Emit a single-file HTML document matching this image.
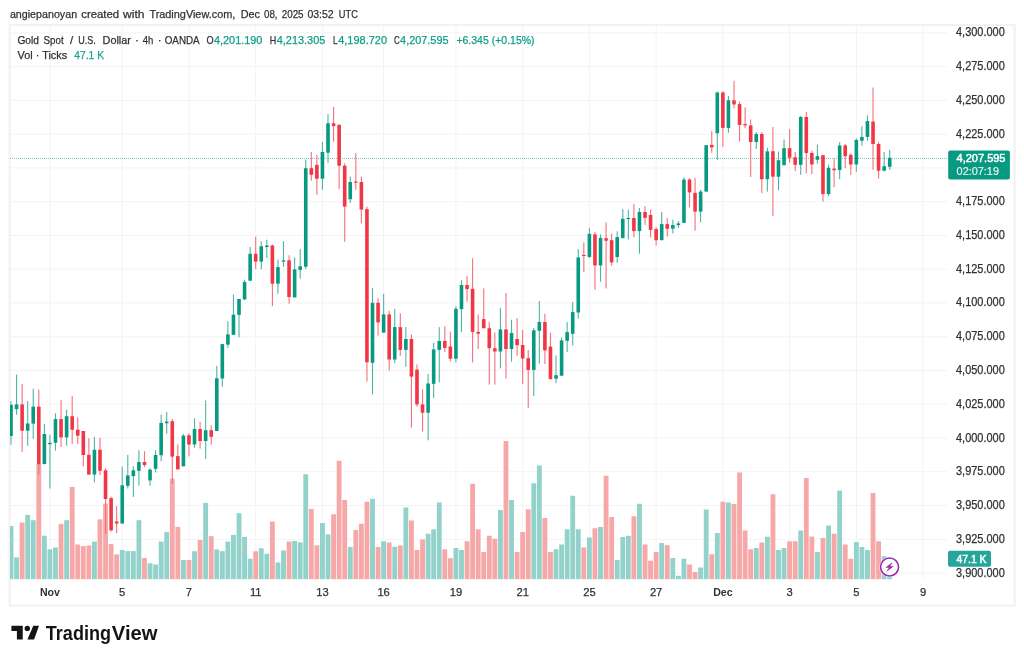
<!DOCTYPE html><html><head><meta charset="utf-8"><title>Gold Spot / U.S. Dollar</title>
<style>html,body{margin:0;padding:0;background:#fff}svg{display:block}text{font-family:"Liberation Sans",sans-serif}.t{stroke:#2e3238;stroke-width:.25px}.g{stroke:#089981;stroke-width:.25px}</style></head><body>
<svg width="1024" height="661" viewBox="0 0 1024 661">
<rect width="1024" height="661" fill="#fff"/>
<g stroke="#f3f3f5" stroke-width="1" shape-rendering="auto"><line x1="10" x2="947.5" y1="32.9" y2="32.9"/><line x1="10" x2="947.5" y1="66.66" y2="66.66"/><line x1="10" x2="947.5" y1="100.42" y2="100.42"/><line x1="10" x2="947.5" y1="134.18" y2="134.18"/><line x1="10" x2="947.5" y1="167.94" y2="167.94"/><line x1="10" x2="947.5" y1="201.7" y2="201.7"/><line x1="10" x2="947.5" y1="235.46" y2="235.46"/><line x1="10" x2="947.5" y1="269.22" y2="269.22"/><line x1="10" x2="947.5" y1="302.98" y2="302.98"/><line x1="10" x2="947.5" y1="336.74" y2="336.74"/><line x1="10" x2="947.5" y1="370.5" y2="370.5"/><line x1="10" x2="947.5" y1="404.26" y2="404.26"/><line x1="10" x2="947.5" y1="438.02" y2="438.02"/><line x1="10" x2="947.5" y1="471.78" y2="471.78"/><line x1="10" x2="947.5" y1="505.54" y2="505.54"/><line x1="10" x2="947.5" y1="539.3" y2="539.3"/><line x1="10" x2="947.5" y1="573.06" y2="573.06"/><line x1="49.93" x2="49.93" y1="26" y2="579"/><line x1="122.23" x2="122.23" y1="26" y2="579"/><line x1="188.97" x2="188.97" y1="26" y2="579"/><line x1="255.71" x2="255.71" y1="26" y2="579"/><line x1="322.44" x2="322.44" y1="26" y2="579"/><line x1="383.62" x2="383.62" y1="26" y2="579"/><line x1="455.92" x2="455.92" y1="26" y2="579"/><line x1="522.66" x2="522.66" y1="26" y2="579"/><line x1="589.4" x2="589.4" y1="26" y2="579"/><line x1="656.13" x2="656.13" y1="26" y2="579"/><line x1="722.87" x2="722.87" y1="26" y2="579"/><line x1="789.61" x2="789.61" y1="26" y2="579"/><line x1="856.35" x2="856.35" y1="26" y2="579"/><line x1="923.09" x2="923.09" y1="26" y2="579"/></g>
<rect x="9.6" y="25.1" width="1005" height="580.4" fill="none" stroke="#f1f1f2" stroke-width="2"/>
<g fill="#92d2cb"><rect x="10" y="526" width="3.43" height="53.2"/><rect x="14.14" y="557.4" width="4.85" height="21.8"/><rect x="25.26" y="514.9" width="4.85" height="64.3"/><rect x="30.82" y="520.2" width="4.85" height="59"/><rect x="41.94" y="535.7" width="4.85" height="43.5"/><rect x="47.51" y="549.3" width="4.85" height="29.9"/><rect x="53.07" y="547.5" width="4.85" height="31.7"/><rect x="64.19" y="520.2" width="4.85" height="59"/><rect x="92" y="541.6" width="4.85" height="37.6"/><rect x="119.8" y="549.9" width="4.85" height="29.3"/><rect x="125.37" y="551.1" width="4.85" height="28.1"/><rect x="130.93" y="551.1" width="4.85" height="28.1"/><rect x="136.49" y="520.2" width="4.85" height="59"/><rect x="147.61" y="563.2" width="4.85" height="16"/><rect x="153.17" y="564.5" width="4.85" height="14.7"/><rect x="158.74" y="541.6" width="4.85" height="37.6"/><rect x="164.3" y="531.9" width="4.85" height="47.3"/><rect x="180.98" y="560" width="4.85" height="19.2"/><rect x="192.1" y="551.2" width="4.85" height="28"/><rect x="203.23" y="502.9" width="4.85" height="76.3"/><rect x="214.35" y="549.4" width="4.85" height="29.8"/><rect x="219.91" y="551.2" width="4.85" height="28"/><rect x="225.47" y="541.6" width="4.85" height="37.6"/><rect x="231.03" y="534.9" width="4.85" height="44.3"/><rect x="236.6" y="513.2" width="4.85" height="66"/><rect x="242.16" y="537" width="4.85" height="42.2"/><rect x="247.72" y="558.75" width="4.85" height="20.45"/><rect x="258.84" y="548.25" width="4.85" height="30.95"/><rect x="264.4" y="553.75" width="4.85" height="25.45"/><rect x="275.53" y="562.5" width="4.85" height="16.7"/><rect x="281.09" y="550.5" width="4.85" height="28.7"/><rect x="292.21" y="541" width="4.85" height="38.2"/><rect x="297.77" y="542.3" width="4.85" height="36.9"/><rect x="303.33" y="474.2" width="4.85" height="105"/><rect x="320.02" y="523" width="4.85" height="56.2"/><rect x="325.58" y="534.3" width="4.85" height="44.9"/><rect x="347.83" y="547" width="4.85" height="32.2"/><rect x="370.07" y="498.75" width="4.85" height="80.45"/><rect x="381.2" y="541.25" width="4.85" height="37.95"/><rect x="392.32" y="546.75" width="4.85" height="32.45"/><rect x="403.44" y="507.5" width="4.85" height="71.7"/><rect x="425.69" y="533.75" width="4.85" height="45.45"/><rect x="431.25" y="529.25" width="4.85" height="49.95"/><rect x="436.81" y="502.5" width="4.85" height="76.7"/><rect x="453.49" y="548" width="4.85" height="31.2"/><rect x="459.06" y="550" width="4.85" height="29.2"/><rect x="497.99" y="510" width="4.85" height="69.2"/><rect x="509.11" y="500" width="4.85" height="79.2"/><rect x="531.36" y="483.25" width="4.85" height="95.95"/><rect x="536.92" y="465.5" width="4.85" height="113.7"/><rect x="553.6" y="549.25" width="4.85" height="29.95"/><rect x="559.16" y="544.5" width="4.85" height="34.7"/><rect x="564.73" y="529.25" width="4.85" height="49.95"/><rect x="570.29" y="495.75" width="4.85" height="83.45"/><rect x="575.85" y="529.25" width="4.85" height="49.95"/><rect x="586.97" y="537.5" width="4.85" height="41.7"/><rect x="598.09" y="527" width="4.85" height="52.2"/><rect x="614.78" y="560" width="4.85" height="19.2"/><rect x="620.34" y="537" width="4.85" height="42.2"/><rect x="625.9" y="535.75" width="4.85" height="43.45"/><rect x="637.02" y="503.75" width="4.85" height="75.45"/><rect x="659.27" y="543" width="4.85" height="36.2"/><rect x="670.39" y="558" width="4.85" height="21.2"/><rect x="675.96" y="575.75" width="4.85" height="3.45"/><rect x="681.52" y="558.75" width="4.85" height="20.45"/><rect x="698.2" y="567.5" width="4.85" height="11.7"/><rect x="703.76" y="509.5" width="4.85" height="69.7"/><rect x="714.89" y="533" width="4.85" height="46.2"/><rect x="726.01" y="502.5" width="4.85" height="76.7"/><rect x="753.82" y="548" width="4.85" height="31.2"/><rect x="764.94" y="536.75" width="4.85" height="42.45"/><rect x="776.06" y="550" width="4.85" height="29.2"/><rect x="781.62" y="548" width="4.85" height="31.2"/><rect x="798.31" y="530.5" width="4.85" height="48.7"/><rect x="814.99" y="552" width="4.85" height="27.2"/><rect x="826.12" y="525.5" width="4.85" height="53.7"/><rect x="837.24" y="490.5" width="4.85" height="88.7"/><rect x="853.92" y="542" width="4.85" height="37.2"/><rect x="859.48" y="547" width="4.85" height="32.2"/><rect x="865.05" y="550" width="4.85" height="29.2"/><rect x="881.73" y="556.25" width="4.85" height="22.95"/><rect x="887.29" y="559" width="4.85" height="20.2"/></g>
<g fill="#f6a8a8"><rect x="19.7" y="522.5" width="4.85" height="56.7"/><rect x="36.38" y="464" width="4.85" height="115.2"/><rect x="58.63" y="523.9" width="4.85" height="55.3"/><rect x="69.75" y="486.9" width="4.85" height="92.3"/><rect x="75.31" y="544.5" width="4.85" height="34.7"/><rect x="80.87" y="546.1" width="4.85" height="33.1"/><rect x="86.44" y="545.4" width="4.85" height="33.8"/><rect x="97.56" y="519.4" width="4.85" height="59.8"/><rect x="103.12" y="503.6" width="4.85" height="75.6"/><rect x="108.68" y="544.1" width="4.85" height="35.1"/><rect x="114.24" y="554.4" width="4.85" height="24.8"/><rect x="142.05" y="558" width="4.85" height="21.2"/><rect x="169.86" y="478.6" width="4.85" height="100.6"/><rect x="175.42" y="526.9" width="4.85" height="52.3"/><rect x="186.54" y="560" width="4.85" height="19.2"/><rect x="197.67" y="539.9" width="4.85" height="39.3"/><rect x="208.79" y="536.2" width="4.85" height="43"/><rect x="253.28" y="551.25" width="4.85" height="27.95"/><rect x="269.97" y="521.6" width="4.85" height="57.6"/><rect x="286.65" y="541.6" width="4.85" height="37.6"/><rect x="308.9" y="509" width="4.85" height="70.2"/><rect x="314.46" y="545.3" width="4.85" height="33.9"/><rect x="331.14" y="514.25" width="4.85" height="64.95"/><rect x="336.7" y="460.75" width="4.85" height="118.45"/><rect x="342.26" y="500" width="4.85" height="79.2"/><rect x="353.39" y="530" width="4.85" height="49.2"/><rect x="358.95" y="523.75" width="4.85" height="55.45"/><rect x="364.51" y="501.75" width="4.85" height="77.45"/><rect x="375.63" y="547" width="4.85" height="32.2"/><rect x="386.76" y="542.5" width="4.85" height="36.7"/><rect x="397.88" y="545.5" width="4.85" height="33.7"/><rect x="409" y="520.5" width="4.85" height="58.7"/><rect x="414.56" y="550" width="4.85" height="29.2"/><rect x="420.13" y="539.5" width="4.85" height="39.7"/><rect x="442.37" y="549.25" width="4.85" height="29.95"/><rect x="447.93" y="558.25" width="4.85" height="20.95"/><rect x="464.62" y="541.25" width="4.85" height="37.95"/><rect x="470.18" y="483.75" width="4.85" height="95.45"/><rect x="475.74" y="529.25" width="4.85" height="49.95"/><rect x="481.3" y="552" width="4.85" height="27.2"/><rect x="486.86" y="535.75" width="4.85" height="43.45"/><rect x="492.43" y="538.75" width="4.85" height="40.45"/><rect x="503.55" y="441" width="4.85" height="138.2"/><rect x="514.67" y="552" width="4.85" height="27.2"/><rect x="520.23" y="532" width="4.85" height="47.2"/><rect x="525.79" y="509.25" width="4.85" height="69.95"/><rect x="542.48" y="518" width="4.85" height="61.2"/><rect x="548.04" y="552" width="4.85" height="27.2"/><rect x="581.41" y="547.5" width="4.85" height="31.7"/><rect x="592.53" y="528.25" width="4.85" height="50.95"/><rect x="603.66" y="475.75" width="4.85" height="103.45"/><rect x="609.22" y="517" width="4.85" height="62.2"/><rect x="631.46" y="516.25" width="4.85" height="62.95"/><rect x="642.59" y="544.5" width="4.85" height="34.7"/><rect x="648.15" y="560.75" width="4.85" height="18.45"/><rect x="653.71" y="552" width="4.85" height="27.2"/><rect x="664.83" y="545.25" width="4.85" height="33.95"/><rect x="687.08" y="564.5" width="4.85" height="14.7"/><rect x="692.64" y="572" width="4.85" height="7.2"/><rect x="709.32" y="554.25" width="4.85" height="24.95"/><rect x="720.45" y="501.75" width="4.85" height="77.45"/><rect x="731.57" y="504" width="4.85" height="75.2"/><rect x="737.13" y="472.5" width="4.85" height="106.7"/><rect x="742.69" y="530.5" width="4.85" height="48.7"/><rect x="748.25" y="549.25" width="4.85" height="29.95"/><rect x="759.38" y="542.5" width="4.85" height="36.7"/><rect x="770.5" y="494.25" width="4.85" height="84.95"/><rect x="787.18" y="541.25" width="4.85" height="37.95"/><rect x="792.75" y="541.25" width="4.85" height="37.95"/><rect x="803.87" y="478" width="4.85" height="101.2"/><rect x="809.43" y="536.5" width="4.85" height="42.7"/><rect x="820.55" y="538" width="4.85" height="41.2"/><rect x="831.68" y="533.75" width="4.85" height="45.45"/><rect x="842.8" y="544.5" width="4.85" height="34.7"/><rect x="848.36" y="558.75" width="4.85" height="20.45"/><rect x="870.61" y="493" width="4.85" height="86.2"/><rect x="876.17" y="541.25" width="4.85" height="37.95"/></g>
<line x1="10" x2="947.5" y1="158.45" y2="158.45" stroke="#089981" stroke-width="1" stroke-dasharray="1 1" opacity="0.55"/>
<g fill="#4fb5a3"><rect x="10.45" y="401.1" width="1.1" height="43.7"/><rect x="16.01" y="374.6" width="1.1" height="40.3"/><rect x="27.13" y="401.1" width="1.1" height="44.6"/><rect x="32.7" y="388.8" width="1.1" height="49.9"/><rect x="43.82" y="424" width="1.1" height="40.5"/><rect x="49.38" y="434.9" width="1.1" height="53.7"/><rect x="54.94" y="413.2" width="1.1" height="37.5"/><rect x="66.06" y="409.6" width="1.1" height="36.1"/><rect x="93.87" y="436.9" width="1.1" height="45.5"/><rect x="121.68" y="466.6" width="1.1" height="56.9"/><rect x="127.24" y="454.9" width="1.1" height="33.7"/><rect x="132.8" y="466.1" width="1.1" height="30.8"/><rect x="138.36" y="450.2" width="1.1" height="35.6"/><rect x="149.49" y="468.3" width="1.1" height="17.5"/><rect x="155.05" y="450.2" width="1.1" height="22.3"/><rect x="160.61" y="414.6" width="1.1" height="46.6"/><rect x="166.17" y="411.9" width="1.1" height="21.8"/><rect x="182.86" y="434" width="1.1" height="32.3"/><rect x="193.98" y="418.2" width="1.1" height="29.6"/><rect x="205.1" y="400.4" width="1.1" height="58.6"/><rect x="216.23" y="365.9" width="1.1" height="65.1"/><rect x="221.79" y="344.1" width="1.1" height="42.7"/><rect x="227.35" y="321.2" width="1.1" height="26.5"/><rect x="232.91" y="294.5" width="1.1" height="40.3"/><rect x="238.47" y="299" width="1.1" height="38.3"/><rect x="244.03" y="279.9" width="1.1" height="20"/><rect x="249.59" y="247.1" width="1.1" height="33.6"/><rect x="260.72" y="241.3" width="1.1" height="27.8"/><rect x="266.28" y="239.6" width="1.1" height="18.3"/><rect x="277.4" y="259.6" width="1.1" height="34.1"/><rect x="282.96" y="241.1" width="1.1" height="25.8"/><rect x="294.09" y="257.4" width="1.1" height="40"/><rect x="299.65" y="249.1" width="1.1" height="29.6"/><rect x="305.21" y="159.5" width="1.1" height="109.6"/><rect x="321.89" y="141.9" width="1.1" height="47.9"/><rect x="327.46" y="114.1" width="1.1" height="48.8"/><rect x="349.7" y="176.5" width="1.1" height="26.4"/><rect x="371.95" y="288" width="1.1" height="106.4"/><rect x="383.07" y="293.8" width="1.1" height="38.9"/><rect x="394.19" y="308.8" width="1.1" height="54.4"/><rect x="405.32" y="327.1" width="1.1" height="39.7"/><rect x="427.56" y="374" width="1.1" height="66.3"/><rect x="433.12" y="342.7" width="1.1" height="55.2"/><rect x="438.69" y="327.1" width="1.1" height="55.2"/><rect x="455.37" y="306.3" width="1.1" height="56"/><rect x="460.93" y="280.3" width="1.1" height="51.7"/><rect x="499.86" y="307.9" width="1.1" height="60.5"/><rect x="510.98" y="319.7" width="1.1" height="42.1"/><rect x="533.23" y="327.9" width="1.1" height="68.2"/><rect x="538.79" y="301" width="1.1" height="62.5"/><rect x="555.48" y="355.4" width="1.1" height="27.8"/><rect x="561.04" y="337.4" width="1.1" height="38.3"/><rect x="566.6" y="322" width="1.1" height="30.1"/><rect x="572.16" y="301.9" width="1.1" height="43.5"/><rect x="577.72" y="249.1" width="1.1" height="69.5"/><rect x="588.85" y="227.8" width="1.1" height="30.4"/><rect x="599.97" y="234.4" width="1.1" height="47.4"/><rect x="616.65" y="231.3" width="1.1" height="31.4"/><rect x="622.22" y="209.1" width="1.1" height="29.6"/><rect x="627.78" y="209.6" width="1.1" height="30"/><rect x="638.9" y="208" width="1.1" height="45.7"/><rect x="661.15" y="212" width="1.1" height="28.2"/><rect x="672.27" y="219.7" width="1.1" height="13.8"/><rect x="677.83" y="221" width="1.1" height="7"/><rect x="683.39" y="177.3" width="1.1" height="45.6"/><rect x="700.08" y="189.9" width="1.1" height="32.5"/><rect x="705.64" y="145.2" width="1.1" height="46.4"/><rect x="716.76" y="91.6" width="1.1" height="68.3"/><rect x="727.88" y="95.8" width="1.1" height="36.9"/><rect x="755.69" y="132" width="1.1" height="17"/><rect x="766.81" y="147.7" width="1.1" height="43.9"/><rect x="777.94" y="151.5" width="1.1" height="38.9"/><rect x="783.5" y="139.5" width="1.1" height="25.7"/><rect x="800.18" y="115.8" width="1.1" height="59"/><rect x="816.87" y="144.5" width="1.1" height="19.2"/><rect x="827.99" y="164.8" width="1.1" height="31.4"/><rect x="839.11" y="142" width="1.1" height="37.2"/><rect x="855.8" y="138.5" width="1.1" height="33.3"/><rect x="861.36" y="126.2" width="1.1" height="19.5"/><rect x="866.92" y="115.3" width="1.1" height="25.4"/><rect x="883.61" y="152" width="1.1" height="19.2"/><rect x="889.17" y="149.9" width="1.1" height="19.9"/></g>
<g fill="#f5707b"><rect x="21.57" y="384.1" width="1.1" height="67.9"/><rect x="38.26" y="389.5" width="1.1" height="85.5"/><rect x="60.5" y="399.9" width="1.1" height="47.1"/><rect x="71.63" y="396.1" width="1.1" height="47.9"/><rect x="77.19" y="417.4" width="1.1" height="26.6"/><rect x="82.75" y="431" width="1.1" height="35.3"/><rect x="88.31" y="438.2" width="1.1" height="36.4"/><rect x="99.43" y="437.7" width="1.1" height="37.3"/><rect x="105" y="468.3" width="1.1" height="65.4"/><rect x="110.56" y="496.6" width="1.1" height="34.9"/><rect x="116.12" y="506" width="1.1" height="27.2"/><rect x="143.93" y="451.2" width="1.1" height="15.9"/><rect x="171.73" y="419" width="1.1" height="65"/><rect x="177.29" y="444.3" width="1.1" height="25.1"/><rect x="188.42" y="433.2" width="1.1" height="23.3"/><rect x="199.54" y="422" width="1.1" height="26.6"/><rect x="210.66" y="425.2" width="1.1" height="19.6"/><rect x="255.16" y="236.7" width="1.1" height="32.4"/><rect x="271.84" y="244.6" width="1.1" height="61.6"/><rect x="288.52" y="255.3" width="1.1" height="48.4"/><rect x="310.77" y="152" width="1.1" height="28.7"/><rect x="316.33" y="154.9" width="1.1" height="39.9"/><rect x="333.02" y="107" width="1.1" height="34.6"/><rect x="338.58" y="124.1" width="1.1" height="64.9"/><rect x="344.14" y="163.2" width="1.1" height="78.6"/><rect x="355.26" y="152.9" width="1.1" height="36.9"/><rect x="360.82" y="176.5" width="1.1" height="46.8"/><rect x="366.39" y="206.6" width="1.1" height="175"/><rect x="377.51" y="298.3" width="1.1" height="37.4"/><rect x="388.63" y="310.8" width="1.1" height="59.8"/><rect x="399.75" y="313.3" width="1.1" height="42.4"/><rect x="410.88" y="334.5" width="1.1" height="93.2"/><rect x="416.44" y="364.4" width="1.1" height="42.5"/><rect x="422" y="389.4" width="1.1" height="42.1"/><rect x="444.25" y="326.2" width="1.1" height="25.8"/><rect x="449.81" y="331.6" width="1.1" height="29.9"/><rect x="466.49" y="275.8" width="1.1" height="25.8"/><rect x="472.05" y="258.3" width="1.1" height="104.1"/><rect x="477.62" y="314.4" width="1.1" height="34.6"/><rect x="483.18" y="288.4" width="1.1" height="39.8"/><rect x="488.74" y="322" width="1.1" height="62.6"/><rect x="494.3" y="332.4" width="1.1" height="52.2"/><rect x="505.42" y="293" width="1.1" height="85.6"/><rect x="516.55" y="318.1" width="1.1" height="37.7"/><rect x="522.11" y="329.9" width="1.1" height="54.1"/><rect x="527.67" y="349.9" width="1.1" height="58.2"/><rect x="544.35" y="313.8" width="1.1" height="50.2"/><rect x="549.92" y="332.9" width="1.1" height="46.9"/><rect x="583.28" y="242.4" width="1.1" height="29.6"/><rect x="594.41" y="231.9" width="1.1" height="57.9"/><rect x="605.53" y="222.4" width="1.1" height="66.1"/><rect x="611.09" y="233.6" width="1.1" height="32.1"/><rect x="633.34" y="203.8" width="1.1" height="33.6"/><rect x="644.46" y="206.1" width="1.1" height="18.8"/><rect x="650.02" y="209.6" width="1.1" height="27.8"/><rect x="655.58" y="227.1" width="1.1" height="18.3"/><rect x="666.71" y="218" width="1.1" height="18.6"/><rect x="688.95" y="178.2" width="1.1" height="29.2"/><rect x="694.51" y="178" width="1.1" height="52.7"/><rect x="711.2" y="131.2" width="1.1" height="21.6"/><rect x="722.32" y="91.1" width="1.1" height="55.8"/><rect x="733.45" y="80.8" width="1.1" height="27.5"/><rect x="739.01" y="101.6" width="1.1" height="39.9"/><rect x="744.57" y="107.4" width="1.1" height="20.8"/><rect x="750.13" y="119.4" width="1.1" height="57.6"/><rect x="761.25" y="132" width="1.1" height="61.2"/><rect x="772.38" y="127.1" width="1.1" height="89.1"/><rect x="789.06" y="129.1" width="1.1" height="33.7"/><rect x="794.62" y="152" width="1.1" height="19.1"/><rect x="805.74" y="111.9" width="1.1" height="61.4"/><rect x="811.31" y="150.7" width="1.1" height="23.3"/><rect x="822.43" y="155.2" width="1.1" height="46.4"/><rect x="833.55" y="158.6" width="1.1" height="28.7"/><rect x="844.67" y="144" width="1.1" height="24.2"/><rect x="850.24" y="153.2" width="1.1" height="21.6"/><rect x="872.48" y="87.5" width="1.1" height="82.3"/><rect x="878.04" y="141.9" width="1.1" height="36.7"/></g>
<g fill="#089981"><rect x="10" y="404.9" width="2.8" height="31.1"/><rect x="14.76" y="404.4" width="3.6" height="4.7"/><rect x="25.88" y="423.5" width="3.6" height="7.2"/><rect x="31.45" y="406.6" width="3.6" height="17"/><rect x="42.57" y="434" width="3.6" height="30"/><rect x="48.13" y="442.8" width="3.6" height="1.4"/><rect x="53.69" y="419.1" width="3.6" height="23.7"/><rect x="64.81" y="416.2" width="3.6" height="21.2"/><rect x="92.62" y="449.8" width="3.6" height="24.8"/><rect x="120.43" y="485.3" width="3.6" height="38.2"/><rect x="125.99" y="475.4" width="3.6" height="10.4"/><rect x="131.55" y="470.3" width="3.6" height="5.8"/><rect x="137.11" y="462" width="3.6" height="8.8"/><rect x="148.24" y="469.6" width="3.6" height="10.8"/><rect x="153.8" y="455" width="3.6" height="13.8"/><rect x="159.36" y="422.9" width="3.6" height="32.3"/><rect x="164.92" y="421.6" width="3.6" height="1.6"/><rect x="181.61" y="435.7" width="3.6" height="30.6"/><rect x="192.73" y="429" width="3.6" height="15.5"/><rect x="203.85" y="430.2" width="3.6" height="10.8"/><rect x="214.98" y="378.3" width="3.6" height="52.7"/><rect x="220.54" y="344.1" width="3.6" height="34.4"/><rect x="226.1" y="334.4" width="3.6" height="10.2"/><rect x="231.66" y="314.7" width="3.6" height="20.1"/><rect x="237.22" y="299" width="3.6" height="15.9"/><rect x="242.78" y="281.9" width="3.6" height="17.5"/><rect x="248.34" y="253.8" width="3.6" height="26.9"/><rect x="259.47" y="246.3" width="3.6" height="15.3"/><rect x="265.03" y="245.5" width="3.6" height="1.5"/><rect x="276.15" y="267.1" width="3.6" height="16.6"/><rect x="281.71" y="260.3" width="3.6" height="1.3"/><rect x="292.84" y="269.4" width="3.6" height="28"/><rect x="298.4" y="266.3" width="3.6" height="3.6"/><rect x="303.96" y="168.2" width="3.6" height="98.5"/><rect x="320.64" y="152" width="3.6" height="26.7"/><rect x="326.21" y="123.3" width="3.6" height="29.4"/><rect x="348.45" y="182" width="3.6" height="17.2"/><rect x="370.7" y="302.8" width="3.6" height="60"/><rect x="381.82" y="314.4" width="3.6" height="18.3"/><rect x="392.94" y="327.1" width="3.6" height="32.4"/><rect x="404.07" y="339" width="3.6" height="10.9"/><rect x="426.31" y="383.5" width="3.6" height="29.2"/><rect x="431.87" y="349.4" width="3.6" height="34.4"/><rect x="437.44" y="341" width="3.6" height="8.9"/><rect x="454.12" y="308.8" width="3.6" height="49.9"/><rect x="459.68" y="285" width="3.6" height="24.1"/><rect x="498.61" y="329.4" width="3.6" height="22.1"/><rect x="509.73" y="333" width="3.6" height="16"/><rect x="531.98" y="330.3" width="3.6" height="39.6"/><rect x="537.54" y="322" width="3.6" height="8.8"/><rect x="554.23" y="375.2" width="3.6" height="3.5"/><rect x="559.79" y="340.4" width="3.6" height="35.3"/><rect x="565.35" y="332.1" width="3.6" height="8.7"/><rect x="570.91" y="312.1" width="3.6" height="21.7"/><rect x="576.47" y="257.4" width="3.6" height="55.1"/><rect x="587.6" y="233.8" width="3.6" height="23.1"/><rect x="598.72" y="237.9" width="3.6" height="27.5"/><rect x="615.4" y="237.1" width="3.6" height="19.9"/><rect x="620.97" y="218.8" width="3.6" height="19.1"/><rect x="626.53" y="218" width="3.6" height="1.1"/><rect x="637.65" y="212" width="3.6" height="19.1"/><rect x="659.9" y="224.1" width="3.6" height="16.1"/><rect x="671.02" y="225" width="3.6" height="3.7"/><rect x="676.58" y="223.4" width="3.6" height="1.7"/><rect x="682.14" y="179.5" width="3.6" height="43.4"/><rect x="698.83" y="191.6" width="3.6" height="20"/><rect x="704.39" y="145.2" width="3.6" height="46.4"/><rect x="715.51" y="92.5" width="3.6" height="40.7"/><rect x="726.63" y="100.3" width="3.6" height="27.6"/><rect x="754.44" y="134" width="3.6" height="8"/><rect x="765.56" y="151.4" width="3.6" height="27.8"/><rect x="776.69" y="160.2" width="3.6" height="16.5"/><rect x="782.25" y="148.2" width="3.6" height="17"/><rect x="798.93" y="117" width="3.6" height="47.8"/><rect x="815.62" y="156.1" width="3.6" height="3.7"/><rect x="826.74" y="167.8" width="3.6" height="26.3"/><rect x="837.86" y="145.5" width="3.6" height="24.6"/><rect x="854.55" y="139.9" width="3.6" height="24.6"/><rect x="860.11" y="136.9" width="3.6" height="3.8"/><rect x="865.67" y="121.1" width="3.6" height="15.8"/><rect x="882.36" y="166.2" width="3.6" height="4.5"/><rect x="887.92" y="157.8" width="3.6" height="9"/></g>
<g fill="#f23645"><rect x="20.32" y="404.4" width="3.6" height="26.3"/><rect x="37.01" y="406.6" width="3.6" height="57.5"/><rect x="59.25" y="419.1" width="3.6" height="18.3"/><rect x="70.38" y="416.2" width="3.6" height="13.5"/><rect x="75.94" y="429.7" width="3.6" height="6"/><rect x="81.5" y="431" width="3.6" height="24"/><rect x="87.06" y="454.9" width="3.6" height="19.7"/><rect x="98.18" y="449.8" width="3.6" height="21"/><rect x="103.75" y="470.3" width="3.6" height="28.7"/><rect x="109.31" y="498.2" width="3.6" height="32.1"/><rect x="114.87" y="521.5" width="3.6" height="2"/><rect x="142.68" y="462" width="3.6" height="3"/><rect x="170.48" y="421.2" width="3.6" height="35.4"/><rect x="176.04" y="456.1" width="3.6" height="13.3"/><rect x="187.17" y="435.3" width="3.6" height="9.2"/><rect x="198.29" y="429" width="3.6" height="12"/><rect x="209.41" y="430.2" width="3.6" height="6.6"/><rect x="253.91" y="253.8" width="3.6" height="7.8"/><rect x="270.59" y="245.5" width="3.6" height="38.2"/><rect x="287.27" y="260.3" width="3.6" height="36.7"/><rect x="309.52" y="168.2" width="3.6" height="6.6"/><rect x="315.08" y="164.9" width="3.6" height="13.8"/><rect x="331.77" y="123.3" width="3.6" height="2.8"/><rect x="337.33" y="124.9" width="3.6" height="40.8"/><rect x="342.89" y="165.7" width="3.6" height="40.9"/><rect x="354.01" y="181.5" width="3.6" height="1.2"/><rect x="359.57" y="182" width="3.6" height="27.6"/><rect x="365.14" y="209.1" width="3.6" height="153.2"/><rect x="376.26" y="302.8" width="3.6" height="19.6"/><rect x="387.38" y="314.4" width="3.6" height="45.1"/><rect x="398.5" y="327.1" width="3.6" height="22.8"/><rect x="409.63" y="339" width="3.6" height="37.6"/><rect x="415.19" y="369.6" width="3.6" height="34.8"/><rect x="420.75" y="404.4" width="3.6" height="8.3"/><rect x="443" y="341" width="3.6" height="6.9"/><rect x="448.56" y="346.5" width="3.6" height="12.2"/><rect x="465.24" y="285" width="3.6" height="4.1"/><rect x="470.8" y="288.8" width="3.6" height="43.1"/><rect x="476.37" y="331.9" width="3.6" height="1.8"/><rect x="481.93" y="319.1" width="3.6" height="9.1"/><rect x="487.49" y="328.2" width="3.6" height="20"/><rect x="493.05" y="348.2" width="3.6" height="3.3"/><rect x="504.17" y="329.4" width="3.6" height="19.6"/><rect x="515.3" y="339" width="3.6" height="6.2"/><rect x="520.86" y="345" width="3.6" height="13.5"/><rect x="526.42" y="358.2" width="3.6" height="11.7"/><rect x="543.1" y="322" width="3.6" height="28.4"/><rect x="548.67" y="346.6" width="3.6" height="32.4"/><rect x="582.03" y="254.9" width="3.6" height="1.1"/><rect x="593.16" y="234.4" width="3.6" height="31"/><rect x="604.28" y="238.2" width="3.6" height="2.5"/><rect x="609.84" y="240.2" width="3.6" height="22.2"/><rect x="632.09" y="218" width="3.6" height="13.1"/><rect x="643.21" y="212" width="3.6" height="5.8"/><rect x="648.77" y="215" width="3.6" height="14.9"/><rect x="654.33" y="229.1" width="3.6" height="11.1"/><rect x="665.46" y="224.1" width="3.6" height="4.7"/><rect x="687.7" y="179.5" width="3.6" height="12.9"/><rect x="693.26" y="192.9" width="3.6" height="18.7"/><rect x="709.95" y="144.9" width="3.6" height="2.5"/><rect x="721.07" y="92.5" width="3.6" height="35.4"/><rect x="732.2" y="100.3" width="3.6" height="4.1"/><rect x="737.76" y="104.1" width="3.6" height="20.8"/><rect x="743.32" y="124.1" width="3.6" height="1.3"/><rect x="748.88" y="125.4" width="3.6" height="16.6"/><rect x="760" y="134" width="3.6" height="45.2"/><rect x="771.13" y="151.2" width="3.6" height="25.5"/><rect x="787.81" y="148.2" width="3.6" height="9.5"/><rect x="793.37" y="157.3" width="3.6" height="7.5"/><rect x="804.49" y="117" width="3.6" height="36"/><rect x="810.06" y="152.9" width="3.6" height="11.5"/><rect x="821.18" y="155.2" width="3.6" height="38.9"/><rect x="832.3" y="168.6" width="3.6" height="1.6"/><rect x="843.42" y="145.4" width="3.6" height="10.8"/><rect x="848.99" y="154.9" width="3.6" height="9.6"/><rect x="871.23" y="121.6" width="3.6" height="22.4"/><rect x="876.79" y="144" width="3.6" height="26.7"/></g>
<g transform="translate(889.55 567)"><circle r="10.3" fill="#fff"/><circle r="9" fill="#fff" stroke="#9c2bb3" stroke-width="1.6"/><path d="M3.1 -5.1 L-4.3 0.75 L-0.7 0.75 L-3.4 5 L4.3 -0.65 L0.7 -0.65 Z" fill="#9c2bb3"/></g>
<text class="t" y="18.3" font-size="11.2" fill="#2e3238"><tspan x="9.9" textLength="67.2" lengthAdjust="spacingAndGlyphs">angiepanoyan</tspan> <tspan x="81.2" textLength="38" lengthAdjust="spacingAndGlyphs">created</tspan> <tspan x="123" textLength="21.5" lengthAdjust="spacingAndGlyphs">with</tspan> <tspan x="149.4" textLength="85.9" lengthAdjust="spacingAndGlyphs">TradingView.com,</tspan> <tspan x="240.7" textLength="19.2" lengthAdjust="spacingAndGlyphs">Dec</tspan> <tspan x="264" textLength="13.6" lengthAdjust="spacingAndGlyphs">08,</tspan> <tspan x="281.7" textLength="21.9" lengthAdjust="spacingAndGlyphs">2025</tspan> <tspan x="307.4" textLength="26.3" lengthAdjust="spacingAndGlyphs">03:52</tspan> <tspan x="338.8" textLength="19.1" lengthAdjust="spacingAndGlyphs">UTC</tspan></text>
<text class="t" y="43.7" font-size="11.4" fill="#2e3238"><tspan x="17.4" textLength="21.6" lengthAdjust="spacingAndGlyphs">Gold</tspan> <tspan x="43.6" textLength="20" lengthAdjust="spacingAndGlyphs">Spot</tspan> <tspan x="70">/</tspan> <tspan x="78.2" textLength="17.6" lengthAdjust="spacingAndGlyphs">U.S.</tspan> <tspan x="102.5" textLength="28.5" lengthAdjust="spacingAndGlyphs">Dollar</tspan> <tspan x="135">·</tspan> <tspan x="142.7" textLength="10.6" lengthAdjust="spacingAndGlyphs">4h</tspan> <tspan x="157.8">·</tspan> <tspan x="164.7" textLength="35" lengthAdjust="spacingAndGlyphs">OANDA</tspan></text>
<text class="t" x="206.4" y="43.7" font-size="11.4" fill="#2e3238" textLength="7.1" lengthAdjust="spacingAndGlyphs">O</text>
<text class="g" x="214" y="43.7" font-size="11.4" fill="#12a08a" textLength="48.3" lengthAdjust="spacingAndGlyphs">4,201.190</text>
<text class="t" x="269.7" y="43.7" font-size="11.4" fill="#2e3238" textLength="6.5" lengthAdjust="spacingAndGlyphs">H</text>
<text class="g" x="276.7" y="43.7" font-size="11.4" fill="#12a08a" textLength="48.7" lengthAdjust="spacingAndGlyphs">4,213.305</text>
<text class="t" x="333" y="43.7" font-size="11.4" fill="#2e3238" textLength="4.6" lengthAdjust="spacingAndGlyphs">L</text>
<text class="g" x="338.2" y="43.7" font-size="11.4" fill="#12a08a" textLength="48.8" lengthAdjust="spacingAndGlyphs">4,198.720</text>
<text class="t" x="394" y="43.7" font-size="11.4" fill="#2e3238" textLength="5.8" lengthAdjust="spacingAndGlyphs">C</text>
<text class="g" x="400.1" y="43.7" font-size="11.4" fill="#12a08a" textLength="48.4" lengthAdjust="spacingAndGlyphs">4,207.595</text>
<text class="g" x="456.4" y="43.7" font-size="11.4" fill="#12a08a" textLength="78.2" lengthAdjust="spacingAndGlyphs">+6.345 (+0.15%)</text>
<text class="t" x="17.6" y="58.9" font-size="11.4" fill="#2e3238" textLength="49.5" lengthAdjust="spacingAndGlyphs">Vol · Ticks</text>
<text class="g" x="74.3" y="58.9" font-size="11.4" fill="#26a69a" textLength="29.8" lengthAdjust="spacingAndGlyphs">47.1 K</text>
<text class="t" x="956" y="36.4" font-size="12" fill="#2e3238" textLength="48.8" lengthAdjust="spacingAndGlyphs">4,300.000</text>
<text class="t" x="956" y="70.16" font-size="12" fill="#2e3238" textLength="48.8" lengthAdjust="spacingAndGlyphs">4,275.000</text>
<text class="t" x="956" y="103.92" font-size="12" fill="#2e3238" textLength="48.8" lengthAdjust="spacingAndGlyphs">4,250.000</text>
<text class="t" x="956" y="137.68" font-size="12" fill="#2e3238" textLength="48.8" lengthAdjust="spacingAndGlyphs">4,225.000</text>
<text class="t" x="956" y="171.44" font-size="12" fill="#2e3238" textLength="48.8" lengthAdjust="spacingAndGlyphs">4,200.000</text>
<text class="t" x="956" y="205.2" font-size="12" fill="#2e3238" textLength="48.8" lengthAdjust="spacingAndGlyphs">4,175.000</text>
<text class="t" x="956" y="238.96" font-size="12" fill="#2e3238" textLength="48.8" lengthAdjust="spacingAndGlyphs">4,150.000</text>
<text class="t" x="956" y="272.72" font-size="12" fill="#2e3238" textLength="48.8" lengthAdjust="spacingAndGlyphs">4,125.000</text>
<text class="t" x="956" y="306.48" font-size="12" fill="#2e3238" textLength="48.8" lengthAdjust="spacingAndGlyphs">4,100.000</text>
<text class="t" x="956" y="340.24" font-size="12" fill="#2e3238" textLength="48.8" lengthAdjust="spacingAndGlyphs">4,075.000</text>
<text class="t" x="956" y="374" font-size="12" fill="#2e3238" textLength="48.8" lengthAdjust="spacingAndGlyphs">4,050.000</text>
<text class="t" x="956" y="407.76" font-size="12" fill="#2e3238" textLength="48.8" lengthAdjust="spacingAndGlyphs">4,025.000</text>
<text class="t" x="956" y="441.52" font-size="12" fill="#2e3238" textLength="48.8" lengthAdjust="spacingAndGlyphs">4,000.000</text>
<text class="t" x="956" y="475.28" font-size="12" fill="#2e3238" textLength="48.8" lengthAdjust="spacingAndGlyphs">3,975.000</text>
<text class="t" x="956" y="509.04" font-size="12" fill="#2e3238" textLength="48.8" lengthAdjust="spacingAndGlyphs">3,950.000</text>
<text class="t" x="956" y="542.8" font-size="12" fill="#2e3238" textLength="48.8" lengthAdjust="spacingAndGlyphs">3,925.000</text>
<text class="t" x="956" y="576.56" font-size="12" fill="#2e3238" textLength="48.8" lengthAdjust="spacingAndGlyphs">3,900.000</text>
<rect x="948.2" y="150.4" width="61.7" height="29.1" rx="2" fill="#089981"/>
<text x="956.6" y="161.9" font-size="11.4" stroke="#fff" stroke-width="0.5" fill="#fff" textLength="48.9" lengthAdjust="spacingAndGlyphs">4,207.595</text>
<text x="956.6" y="174.9" font-size="10.6" fill="#fff" fill-opacity="0.85" stroke="#fff" stroke-width="0.2" stroke-opacity="0.85" textLength="42.4" lengthAdjust="spacingAndGlyphs">02:07:19</text>
<rect x="948" y="550.8" width="43" height="16" rx="2" fill="#26a69a"/>
<text x="956.5" y="563" font-size="11.2" stroke="#fff" stroke-width="0.5" fill="#fff" textLength="30" lengthAdjust="spacingAndGlyphs">47.1 K</text>
<text class="b" x="49.93" y="596" font-size="10.6" fill="#2e3238" text-anchor="middle" font-weight="bold">Nov</text>
<text class="t" x="122.23" y="596" font-size="11.2" fill="#2e3238" text-anchor="middle">5</text>
<text class="t" x="188.97" y="596" font-size="11.2" fill="#2e3238" text-anchor="middle">7</text>
<text class="t" x="255.71" y="596" font-size="11.2" fill="#2e3238" text-anchor="middle">11</text>
<text class="t" x="322.44" y="596" font-size="11.2" fill="#2e3238" text-anchor="middle">13</text>
<text class="t" x="383.62" y="596" font-size="11.2" fill="#2e3238" text-anchor="middle">16</text>
<text class="t" x="455.92" y="596" font-size="11.2" fill="#2e3238" text-anchor="middle">19</text>
<text class="t" x="522.66" y="596" font-size="11.2" fill="#2e3238" text-anchor="middle">21</text>
<text class="t" x="589.4" y="596" font-size="11.2" fill="#2e3238" text-anchor="middle">25</text>
<text class="t" x="656.13" y="596" font-size="11.2" fill="#2e3238" text-anchor="middle">27</text>
<text class="b" x="722.87" y="596" font-size="10.6" fill="#2e3238" text-anchor="middle" font-weight="bold">Dec</text>
<text class="t" x="789.61" y="596" font-size="11.2" fill="#2e3238" text-anchor="middle">3</text>
<text class="t" x="856.35" y="596" font-size="11.2" fill="#2e3238" text-anchor="middle">5</text>
<text class="t" x="923.09" y="596" font-size="11.2" fill="#2e3238" text-anchor="middle">9</text>
<g fill="#141414"><path d="M11.4 625.8 H22.75 V639.4 H16.9 V630.9 H11.4 Z"/><circle cx="27.3" cy="628.4" r="2.7"/><path d="M33.3 625.8 H39 L34.1 639.4 H27.4 Z"/></g>
<text y="639.5" font-size="19.6" font-weight="bold" fill="#141414"><tspan x="45.8" textLength="65.2" lengthAdjust="spacingAndGlyphs">Trading</tspan><tspan x="111.8" textLength="45.7" lengthAdjust="spacingAndGlyphs">View</tspan></text>
</svg></body></html>
